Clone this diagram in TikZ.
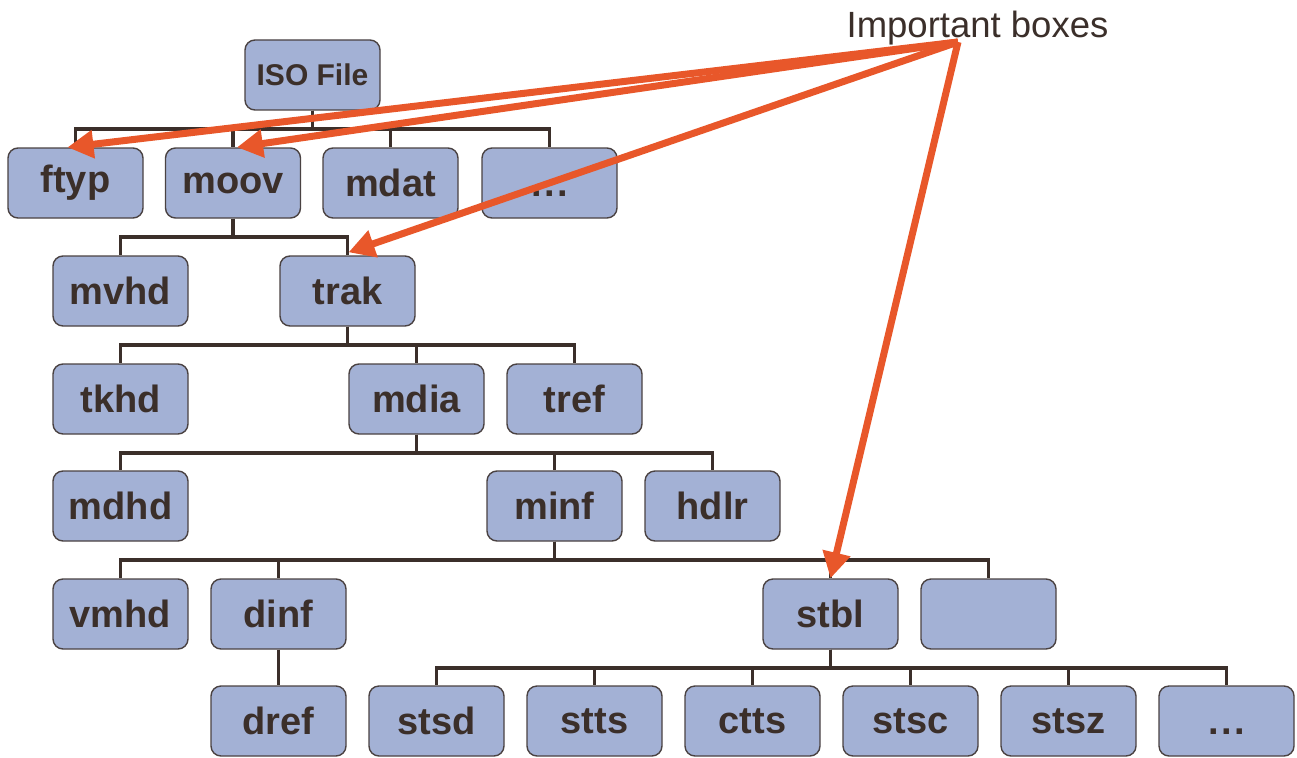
\documentclass[tikz,border=0pt]{standalone}
\usepackage{fontspec}
\setmainfont{Liberation Sans}
\usetikzlibrary{arrows.meta,calc}
\definecolor{boxfill}{HTML}{A3B1D5}
\definecolor{boxline}{HTML}{4A4242}
\definecolor{txt}{HTML}{3B2F2A}
\definecolor{treeline}{HTML}{3B2F2A}
\definecolor{hl}{HTML}{E8572A}
\newcommand{\mydots}{\vphantom{d}{.}\kern2.5pt{.}\kern2.5pt{.}}
\begin{document}
\begin{tikzpicture}[x=1pt,y=-1pt,
  box/.style={draw=boxline, line width=1.4pt, fill=boxfill, rounded corners=10pt,
    minimum width=135pt, minimum height=70pt, inner sep=0pt,
    font=\fontsize{38}{40}\selectfont\bfseries, text=txt},
  rootbox/.style={box, font=\fontsize{30}{32}\selectfont\bfseries},
  tree/.style={draw=treeline, line width=3.6pt},
  arr/.style={draw=hl, line width=7pt, -{Triangle[length=26pt,width=27pt]}},
  lbl/.style={font=\fontsize{36.5}{38}\selectfont, text=txt, inner sep=0pt}]
\useasboundingbox (0,0) rectangle (1297,757);
% nodes
\node[rootbox] (iso) at (312.5,75) {ISO File};
\node[box] (ftyp) at (75.5,183) {ftyp};
\node[box] (moov) at (233,183) {moov};
\node[box] (mdat) at (390.5,183) {mdat};
\node[box] (dotsa) at (549.5,183) {\mydots};
\node[box] (mvhd) at (120.5,291) {mvhd};
\node[box] (trak) at (347.5,291) {trak};
\node[box] (tkhd) at (120.5,399) {tkhd};
\node[box] (mdia) at (416.5,399) {mdia};
\node[box] (tref) at (574.5,399) {tref};
\node[box] (mdhd) at (120.5,506) {mdhd};
\node[box] (minf) at (554.5,506) {minf};
\node[box] (hdlr) at (712.5,506) {hdlr};
\node[box] (vmhd) at (120.5,614) {vmhd};
\node[box] (dinf) at (278.5,614) {dinf};
\node[box] (stbl) at (830.5,614) {stbl};
\node[box] (empty) at (988.5,614) {};
\node[box] (dref) at (278.5,721) {dref};
\node[box] (stsd) at (436.5,721) {stsd};
\node[box] (stts) at (594.5,721) {stts};
\node[box] (ctts) at (752.5,721) {ctts};
\node[box] (stsc) at (910.5,721) {stsc};
\node[box] (stsz) at (1068.5,721) {stsz};
\node[box] (dotsb) at (1226.5,721) {\mydots};
\node[lbl, anchor=base] (imp) at (977.5,38) {Important boxes};
% tree connectors
\foreach \p/\c in {iso/ftyp, iso/moov, iso/mdat, iso/dotsa,
                   moov/mvhd, moov/trak,
                   trak/tkhd, trak/mdia, trak/tref,
                   mdia/mdhd, mdia/minf, mdia/hdlr,
                   minf/vmhd, minf/dinf, minf/stbl, minf/empty,
                   stbl/stsd, stbl/stts, stbl/ctts, stbl/stsc, stbl/stsz, stbl/dotsb}
  \draw[tree] (\p.south) -- ++(0,18.5) -| (\c.north);
\draw[tree] (dinf.south) -- (dref.north);
% highlight arrows
\coordinate (hub) at (958,42);
\draw[arr] (hub) -- ($(ftyp.north)+(-8,0)$);
\draw[arr] (hub) -- ($(moov.north)+(4,0)$);
\draw[arr] (hub) -- ($(trak.north)+(1,-3)$);
\draw[arr] (hub) -- (stbl.north);
\end{tikzpicture}
\end{document}
